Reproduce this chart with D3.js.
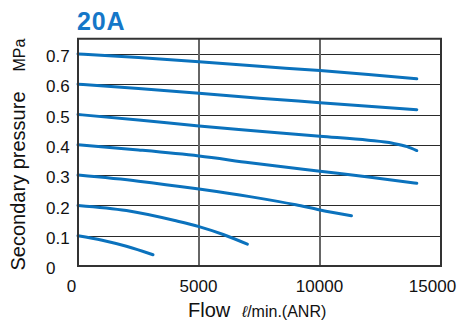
<!DOCTYPE html>
<html>
<head>
<meta charset="utf-8">
<script src="https://cdn.jsdelivr.net/npm/d3@7"></script>
<style>
  body { margin: 0; background: #fff; }
  svg { display: block; font-family: "Liberation Sans", Arial, sans-serif; }
</style>
</head>
<body>
<svg id="chart" width="457" height="322"></svg>
<script>
// ---- data ----
const title = "20A";
const xTicks = [0, 5000, 10000, 15000];
const yTicks = [0, 0.1, 0.2, 0.3, 0.4, 0.5, 0.6, 0.7];
const yTickLabels = ["0", "0.1", "0.2", "0.3", "0.4", "0.5", "0.6", "0.7"];
const curve07 = [[0, 0.700], [2500, 0.688], [5000, 0.674], [7500, 0.659], [10000, 0.645], [12000, 0.632], [14000, 0.618]];
const curve06 = [[0, 0.600], [2500, 0.586], [5000, 0.570], [7500, 0.554], [10000, 0.539], [12000, 0.527], [14000, 0.516]];
const curve05 = [[0, 0.500], [2500, 0.482], [5000, 0.462], [7500, 0.445], [10000, 0.428], [12000, 0.415], [13000, 0.405], [13600, 0.394], [14000, 0.381]];
const curve04 = [[0, 0.400], [2500, 0.383], [5000, 0.363], [7100, 0.341], [10000, 0.313], [12000, 0.294], [14000, 0.273]];
const curve03 = [[0, 0.300], [2500, 0.280], [5000, 0.254], [7100, 0.229], [9000, 0.202], [10000, 0.185], [11300, 0.166]];
const curve02 = [[0, 0.200], [2000, 0.183], [4000, 0.150], [5000, 0.130], [6000, 0.104], [7000, 0.072]];
const curve01 = [[0, 0.100], [1000, 0.085], [2000, 0.065], [3100, 0.037]];
const seriesList = [curve07, curve06, curve05, curve04, curve03, curve02, curve01];

// ---- layout ----
const svg = d3.select("#chart");
const L = 78, R = 441, T = 38.75, B = 266;
const x = d3.scaleLinear().domain([0, 15000]).range([L, R]);
const y = d3.scaleLinear().domain([0, 0.75]).range([B, T]);
const blue = "#0b72bd";

// horizontal grid lines
svg.append("g").selectAll("line")
  .data(yTicks.filter(d => d > 0))
  .join("line")
  .attr("x1", L).attr("x2", R)
  .attr("y1", d => Math.round(y(d)) + 0.5).attr("y2", d => Math.round(y(d)) + 0.5)
  .attr("stroke", "#2a2a2a").attr("stroke-width", 1.2);

// vertical grid lines
svg.append("g").selectAll("line")
  .data(xTicks.filter(d => d > 0 && d < 15000))
  .join("line")
  .attr("x1", d => x(d)).attr("x2", d => x(d))
  .attr("y1", T).attr("y2", B)
  .attr("stroke", "#666").attr("stroke-width", 2);

// curves
const line = d3.line()
  .x(d => x(d[0])).y(d => y(d[1]))
  .curve(d3.curveMonotoneX);
svg.append("g").selectAll("path")
  .data(seriesList)
  .join("path")
  .attr("d", line)
  .attr("fill", "none")
  .attr("stroke", blue)
  .attr("stroke-width", 3)
  .attr("stroke-linecap", "round");

// frame
svg.append("rect")
  .attr("x", L).attr("y", T).attr("width", R - L).attr("height", B - T)
  .attr("fill", "none").attr("stroke", "#333").attr("stroke-width", 2);

// y axis
const yAxis = svg.append("g")
  .attr("transform", `translate(${L},0)`)
  .call(d3.axisLeft(y).tickValues(yTicks).tickSize(0)
        .tickFormat((d, i) => yTickLabels[i]));
yAxis.select(".domain").remove();
yAxis.selectAll("text")
  .attr("x", 46 - L).attr("dy", "0.45em")
  .attr("text-anchor", "start")
  .attr("font-size", 17)
  .attr("font-family", "Liberation Sans, Arial, sans-serif")
  .attr("fill", "#111");

// x axis
const xAxis = svg.append("g")
  .attr("transform", `translate(0,${B})`)
  .call(d3.axisBottom(x).tickValues(xTicks).tickSize(0).tickFormat(d3.format("d")));
xAxis.select(".domain").remove();
xAxis.selectAll("text")
  .attr("y", 26).attr("dy", 0)
  .attr("dx", d => d === 0 ? -7 : (d === 15000 ? -9 : -1))
  .attr("font-size", 17)
  .attr("font-family", "Liberation Sans, Arial, sans-serif")
  .attr("fill", "#111");

// title
svg.append("text")
  .attr("x", 77).attr("y", 30)
  .attr("font-size", 25).attr("font-weight", "bold")
  .attr("letter-spacing", 0.8)
  .attr("fill", "#1577c8")
  .text(title);

// x label
const xl = svg.append("text")
  .attr("x", 188).attr("y", 316.5)
  .attr("fill", "#111");
xl.append("tspan").attr("font-size", 20).text("Flow");
xl.append("tspan").attr("x", 242).attr("font-size", 16).attr("font-style", "italic").text("ℓ");
xl.append("tspan").attr("font-size", 16).text("/min.(ANR)");

// y label
svg.append("text")
  .attr("transform", "translate(25,181) rotate(-90)")
  .attr("text-anchor", "middle")
  .attr("font-size", 20).attr("fill", "#111")
  .text("Secondary pressure");
svg.append("text")
  .attr("transform", "translate(25,55) rotate(-90)")
  .attr("text-anchor", "middle")
  .attr("font-size", 16).attr("fill", "#111")
  .text("MPa");
</script>
</body>
</html>
